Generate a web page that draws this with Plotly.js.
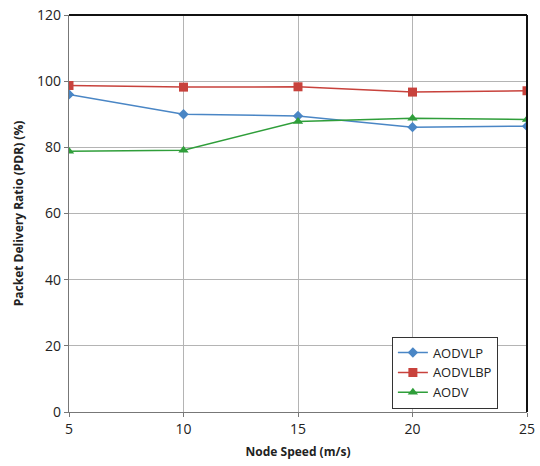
<!DOCTYPE html>
<html><head><meta charset="utf-8">
<script src="https://cdn.plot.ly/plotly-3.0.1.min.js"></script>
<style>html,body{margin:0;padding:0;background:#fff}#c{width:540px;height:466px}</style>
</head><body><div id="c"></div>
<script>
const speeds = [5, 10, 15, 20, 25];
const aodvlp = [96.0, 90.0, 89.5, 86.1, 86.4];
const aodvlbp = [98.7, 98.2, 98.3, 96.7, 97.1];
const aodv = [78.8, 79.1, 87.8, 88.8, 88.4];

const font = "'Open Sans', 'Liberation Sans', sans-serif";
const traces = [
  {x: speeds, y: aodvlp, name: 'AODVLP', mode: 'lines+markers', line: {color: '#4a86c5', width: 1.5}, marker: {symbol: 'diamond', size: 8, color: '#4a86c5'}},
  {x: speeds, y: aodvlbp, name: 'AODVLBP', mode: 'lines+markers', line: {color: '#c8423c', width: 1.5}, marker: {symbol: 'square', size: 9, color: '#c8423c'}},
  {x: speeds, y: aodv, name: 'AODV', mode: 'lines+markers', line: {color: '#2f9e3a', width: 1.5}, marker: {symbol: 'triangle-up', size: 9, color: '#2f9e3a'}}
];
const layout = {
  width: 540, height: 466,
  margin: {l: 69, r: 13, t: 15, b: 54},
  paper_bgcolor: '#fff', plot_bgcolor: '#fff',
  font: {family: font, size: 13, color: '#222'},
  showlegend: true,
  legend: {x: 0.705, y: 0.19, xanchor: 'left', yanchor: 'top', bordercolor: '#333', borderwidth: 1, bgcolor: '#fff', font: {size: 13}, tracegroupgap: 0, itemwidth: 30},
  xaxis: {range: [5, 25], tickvals: speeds, ticktext: ['5','10','15','20','25'], showgrid: true, gridcolor: '#b4b4b4', gridwidth: 1,
    showline: true, linecolor: '#777', linewidth: 1.2, mirror: false, ticks: 'outside', ticklen: 4, tickcolor: '#777', zeroline: false,
    tickfont: {size: 14},
    title: {text: '<b>Node Speed (m/s)</b>', font: {size: 12}, standoff: 10}},
  yaxis: {range: [0, 120], dtick: 20, showgrid: true, gridcolor: '#b4b4b4', gridwidth: 1,
    showline: true, linecolor: '#777', linewidth: 1.2, mirror: false, ticks: 'outside', ticklen: 4, tickcolor: '#777', zeroline: false,
    tickfont: {size: 14},
    title: {text: '<b>Packet Delivery Ratio (PDR) (%)</b>', font: {size: 12}, standoff: 10}},
  shapes: [
    {type: 'line', xref: 'paper', yref: 'paper', x0: 0, x1: 1, y0: 1, y1: 1, line: {color: '#111', width: 2}},
    {type: 'line', xref: 'paper', yref: 'paper', x0: 1, x1: 1, y0: 0, y1: 1, line: {color: '#111', width: 2}}
  ]
};
Plotly.newPlot('c', traces, layout, {displayModeBar: false, staticPlot: true});
</script></body></html>
